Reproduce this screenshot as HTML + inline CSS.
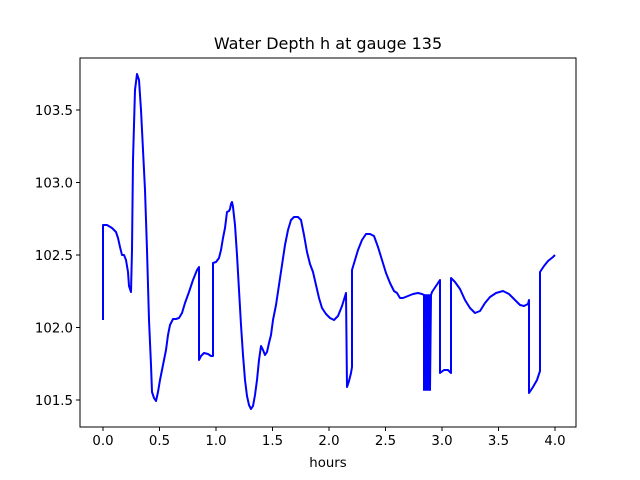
<!DOCTYPE html><html><head><style>body{margin:0;background:#fff}svg{display:block}text{font-family:"DejaVu Sans","Liberation Sans",sans-serif;font-size:13.3px;fill:#000}</style></head><body>
<svg width="640" height="480" xmlns="http://www.w3.org/2000/svg">
<rect width="640" height="480" fill="#fff"/>
<text x="328" y="49" text-anchor="middle" font-size="16" style="font-size:16px">Water Depth h at gauge 135</text>
<polyline fill="none" stroke="#0000ff" stroke-width="2" stroke-linejoin="round" points="103,320 103,225 107,225 112,228 116,232 118,238 120,247 122,255 124,255 126,260 128,272 129,286 131,292 132,250 133,160 135,90 137,74 139,80 141,110 143,150 145,190 147,250 149,320 151,365 152,392 154,398 156,401 158,392 160,380 163,365 166,350 168,335 170,325 173,319 176,319 179,318 182,313 185,303 189,292 193,280 197,270 199,267 199,360 201,356 204,353 208,354 211,356 213,356 213,263 216,262 219,258 221,250 223,238 225,228 227,212 229,211 230,209 231,204 232,202 233,207 235,225 237,255 239,290 241,325 243,355 245,380 247,396 249,405 251,409 253,406 255,395 257,380 259,360 261,346 263,350 265,355 267,352 269,343 271,335 273,320 276,305 279,285 282,265 285,245 288,230 291,220 294,217 298,217 301,220 304,235 307,252 310,264 313,272 316,285 319,298 322,308 326,314 330,318 334,320 338,316 342,306 346,293 347,387 349,381 351,373 352,367 352,270 355,260 358,250 362,240 366,234 370,234 374,236 378,247 382,260 386,273 390,283 394,291 397,293 400,298 403,298 408,296 413,294 418,293 422,294 424,295 424,390 425,295 426,390 427,295 428,390 429,295 430,390 431,295 432,292 436,286 440,280 440,373 444,370 448,370 451,373 451,278 455,282 460,289 465,300 470,308 475,313 480,311 485,303 490,297 496,293 503,291 509,294 515,300 520,305 524,306 528,304 529,300 529,393 533,387 537,380 540,371 540,272 544,266 548,261 553,257 555,255"/>
<rect x="80" y="58" width="496" height="369" fill="none" stroke="#000" stroke-width="1"/>
<g stroke="#000" stroke-width="1">
<line x1="103" y1="427" x2="103" y2="431"/><line x1="159.5" y1="427" x2="159.5" y2="431"/><line x1="216" y1="427" x2="216" y2="431"/><line x1="272.5" y1="427" x2="272.5" y2="431"/><line x1="329" y1="427" x2="329" y2="431"/><line x1="385.5" y1="427" x2="385.5" y2="431"/><line x1="442" y1="427" x2="442" y2="431"/><line x1="498.5" y1="427" x2="498.5" y2="431"/><line x1="555" y1="427" x2="555" y2="431"/>
<line x1="76" y1="110" x2="80" y2="110"/><line x1="76" y1="182.5" x2="80" y2="182.5"/><line x1="76" y1="255" x2="80" y2="255"/><line x1="76" y1="327.5" x2="80" y2="327.5"/><line x1="76" y1="400" x2="80" y2="400"/>
</g>
<g text-anchor="middle">
<text x="103" y="445">0.0</text><text x="159.5" y="445">0.5</text><text x="216" y="445">1.0</text><text x="272.5" y="445">1.5</text><text x="329" y="445">2.0</text><text x="385.5" y="445">2.5</text><text x="442" y="445">3.0</text><text x="498.5" y="445">3.5</text><text x="555" y="445">4.0</text>
<text x="328" y="467">hours</text>
</g>
<g text-anchor="end">
<text x="73" y="115">103.5</text><text x="73" y="187.5">103.0</text><text x="73" y="260">102.5</text><text x="73" y="332.5">102.0</text><text x="73" y="405">101.5</text>
</g>
</svg></body></html>
